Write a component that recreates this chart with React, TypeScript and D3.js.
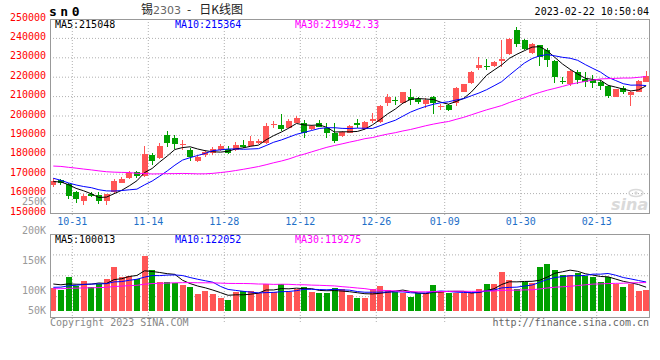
import React from "react";
import * as d3 from "d3";

// trading days shown (left edge of the first one is clipped by the frame)
const dates = [
  "10-26", "10-27", "10-28", "10-31", "11-01", "11-02", "11-03", "11-04", "11-07", "11-08",
  "11-09", "11-10", "11-11", "11-14", "11-15", "11-16", "11-17", "11-18", "11-21", "11-22",
  "11-23", "11-24", "11-25", "11-28", "11-29", "11-30", "12-01", "12-02", "12-05", "12-06",
  "12-07", "12-08", "12-09", "12-12", "12-13", "12-14", "12-15", "12-16", "12-19", "12-20",
  "12-21", "12-22", "12-23", "12-26", "12-27", "12-28", "12-29", "12-30", "01-03", "01-04",
  "01-05", "01-06", "01-09", "01-10", "01-11", "01-12", "01-13", "01-16", "01-17", "01-18",
  "01-19", "01-20", "01-30", "01-31", "02-01", "02-02", "02-03", "02-06", "02-07", "02-08",
  "02-09", "02-10", "02-13", "02-14", "02-15", "02-16", "02-17", "02-20", "02-21",
];

const opens = [
  164690, 167010, 164950, 160570, 156440, 160050, 159280, 155930, 160570, 165720,
  168040, 170880, 168820, 179900, 178350, 190210, 188660, 184800, 182480, 177060,
  179900, 180930, 182480, 182840, 182480, 185050, 184690, 185930, 185930, 195360,
  195360, 193970, 196550, 196240, 193150, 196550, 193670, 191090, 189850, 191390,
  196240, 193150, 197580, 197070, 206860, 208250, 206860, 209790, 208610, 205940,
  209950, 204490, 205680, 206550, 212530, 216860, 224590, 225780, 225780, 228510,
  231810, 244340, 239180, 232330, 236600, 234030, 228510, 218200, 216340, 222840,
  219080, 218560, 217690, 215470, 209950, 214280, 210830, 212530, 217690,
];
const highs = [
  168040, 167780, 165470, 161340, 159540, 161080, 160570, 160050, 167780, 168560,
  171650, 171650, 184540, 180930, 186090, 192270, 190210, 187630, 183510, 179900,
  182480, 184020, 185570, 184540, 186600, 187630, 189690, 188150, 196240, 197580,
  201030, 198460, 200000, 197940, 195360, 197940, 196550, 196550, 192270, 195360,
  198300, 197580, 201400, 205680, 211340, 209640, 212380, 213770, 209790, 209130,
  210310, 206190, 206190, 214950, 216500, 223200, 230570, 229230, 228350, 239180,
  240210, 245730, 239700, 237640, 236600, 235060, 228870, 220260, 223720, 223720,
  222840, 221140, 218560, 215980, 213920, 215470, 212890, 218560, 223350,
];
const lows = [
  163400, 164430, 157470, 155410, 154120, 157990, 154640, 154120, 160050, 165210,
  167530, 168040, 168560, 174740, 177840, 184020, 182990, 182480, 176810, 176290,
  178870, 179900, 181960, 180410, 181960, 183350, 184280, 185570, 185570, 193830,
  192430, 193820, 196400, 188510, 192790, 194330, 188510, 186240, 189180, 191090,
  193670, 192790, 196240, 196240, 205160, 205680, 206330, 205680, 206330, 203970,
  200880, 203100, 202580, 205160, 212380, 216500, 223720, 223720, 225270, 225420,
  231450, 235730, 234030, 231960, 225780, 225270, 216860, 216340, 215470, 216500,
  215110, 214280, 213410, 209130, 209790, 211340, 205160, 212380, 217530,
];
const closes = [
  166750, 165470, 158510, 157470, 159020, 159020, 155930, 159540, 166240, 167780,
  170620, 168820, 180670, 176810, 184540, 186090, 185570, 185570, 178870, 178870,
  181600, 182990, 184540, 181090, 185050, 184180, 187270, 187270, 194850, 195870,
  193300, 197580, 199130, 191090, 194850, 194490, 191090, 187270, 191600, 194850,
  195360, 197070, 198300, 205160, 209640, 207730, 212220, 208100, 207380, 208250,
  206550, 205160, 203100, 214280, 216340, 222840, 226290, 225110, 228000, 229390,
  239700, 236970, 234390, 237120, 230570, 228870, 219950, 217530, 223350, 218560,
  217690, 217170, 215470, 210310, 213770, 212530, 212530, 218200, 220620,
];
const volumes = [
  95500, 88300, 144200, 105100, 126200, 100900, 112300, 134600, 186300, 144200,
  148400, 133300, 232500, 172400, 123200, 123200, 119000, 109300, 102200, 71500,
  85400, 71500, 55900, 46300, 81200, 85400, 85400, 77000, 113500, 81200,
  113500, 81200, 91200, 102200, 81200, 77000, 74400, 95500, 91200, 67300,
  55900, 53400, 91200, 105100, 88300, 81200, 74400, 60100, 74400, 74400,
  109300, 81200, 74400, 74400, 74400, 74400, 92500, 113500, 113500, 164000,
  130400, 91200, 121900, 116500, 186300, 197600, 172400, 151400, 151400, 161100,
  147200, 144200, 121900, 144200, 113500, 99700, 113500, 85400, 88300,
];

// sessions before the visible window, estimated from where the MA lines start
const priorCloses = [
  171000, 172500, 170000, 173500, 172000, 171000, 173000, 172500, 171500, 173000,
  181000, 183000, 184500, 182000, 183500, 185000, 183000, 181500, 182500, 181000,
  176000, 172000, 168000, 167000, 165000, 166500, 165500, 167000, 165250,
];
const priorVolumes = [
  88000, 95000, 92000, 86000, 90000, 94000, 89000, 91000, 93000, 87000,
  92000, 90000, 96000, 88000, 91000, 89000, 93000, 90000, 92000, 91000,
  82000, 88000, 84000, 90000, 85500, 105000, 125000, 112000, 130000,
];

const priceTicks = [150000, 160000, 170000, 180000, 190000, 200000, 210000, 220000, 230000, 240000, 250000];
const dateTicks = ["10-31", "11-14", "11-28", "12-12", "12-26", "01-09", "01-30", "02-13"];
const volTickLabels = ["200K", "150K", "100K", "50K"];
const volTickValues = [200000, 150000, 100000, 50000];

const maPeriods = [5, 10, 30];
const maColors = ["#000000", "#0000ff", "#ff00ff"];
const priceLegend = ["MA5:215048", "MA10:215364", "MA30:219942.33"];
const volLegend = ["MA5:100013", "MA10:122052", "MA30:119275"];

const UP = "#ff5555";
const DOWN = "#00a000";
const MONO = "'DejaVu Sans Mono', monospace";

function movingAverage(values: number[], prior: number[], n: number) {
  const all = prior.concat(values);
  return values.map((_, i) => {
    const end = prior.length + i + 1;
    return d3.mean(all.slice(end - n, end)) as number;
  });
}

export default function App() {
  const left = 50;
  const right = 649;
  const mainTop = 19;
  const mainBottom = 213;
  const volTop = 234;
  const volBottom = 317.5;

  const x = d3.scaleBand<string>().domain(dates).range([49.5, 649.9]);
  const bw = x.bandwidth();
  const cx = (i: number) => (x(dates[i]) as number) + bw / 2;

  const y = d3.scaleLinear().domain([150000, 250000]).range([mainBottom, mainTop]);
  const yVol = d3.scaleLinear().domain([0, 323800]).range([311, volTop]);
  // the volume axis labels sit unevenly in the original
  const yVolLabel = d3.scaleLinear().domain([50000, 100000, 200000]).range([314.3, 294.3, 234.3]);

  const priceLine = d3.line<number>().x((_, i) => cx(i)).y((d) => y(d));
  const volLine = d3.line<number>().x((_, i) => cx(i)).y((d) => yVol(d));

  const volGrid = [1, 2, 3].map((k) => volTop + ((volBottom - volTop) * k) / 4);

  return (
    <svg width={660} height={360} style={{ display: "block", background: "#fff" }}>
      <style>{`body{margin:0}`}</style>
      <defs>
        <clipPath id="clipMain">
          <rect x={left} y={mainTop} width={right - left} height={mainBottom - mainTop} />
        </clipPath>
        <clipPath id="clipVol">
          <rect x={left} y={volTop} width={right - left} height={volBottom - volTop} />
        </clipPath>
      </defs>

      {/* header */}
      <text x={49} y={16} fontFamily={MONO} fontWeight="bold" fontSize={13} letterSpacing={3.5} fill="#000">
        sn0
      </text>
      <text x={141} y={14} fontSize={12} fill="#222" fontFamily="'Noto Sans CJK SC', sans-serif">
        锡<tspan fill="#666" fontFamily="'DejaVu Sans', sans-serif" fontSize={11}>2303</tspan>
        <tspan dx={6}>-</tspan>
        <tspan dx={8}>日K线图</tspan>
      </text>
      <text x={right} y={15} textAnchor="end" fontFamily={MONO} fontSize={10} fill="#000">
        2023-02-22 10:50:04
      </text>

      {/* main grid */}
      {priceTicks.slice(1, -1).map((t) => (
        <line key={"h" + t} x1={left} x2={right} y1={y(t)} y2={y(t)} stroke="#b0b0b0" strokeDasharray="1 2" />
      ))}
      {dateTicks.map((d) => (
        <g key={"v" + d}>
          <line x1={x(d)} x2={x(d)} y1={mainTop} y2={mainBottom + 4} stroke="#b0b0b0" strokeDasharray="1 2" />
          <line x1={x(d)} x2={x(d)} y1={volTop} y2={volBottom + 5} stroke="#b0b0b0" strokeDasharray="1 2" />
          <text x={x(d)} y={225} textAnchor="middle" fontFamily={MONO} fontSize={10} fill="#1e70c8">
            {d}
          </text>
        </g>
      ))}
      {volGrid.map((g) => (
        <line key={"vg" + g} x1={left} x2={right} y1={g} y2={g} stroke="#b0b0b0" strokeDasharray="1 2" />
      ))}

      {/* price axis labels */}
      {priceTicks.map((t) => (
        <text key={"p" + t} x={46} y={y(t) + 1.5} textAnchor="end" fontFamily={MONO} fontSize={10} fill="#f00">
          {t}
        </text>
      ))}
      <text x={46} y={204.5} textAnchor="end" fontFamily={MONO} fontSize={10} fill="#999">
        250K
      </text>
      {volTickValues.map((v, i) => (
        <text key={"vl" + v} x={46} y={yVolLabel(v)} textAnchor="end" fontFamily={MONO} fontSize={10} fill="#999">
          {volTickLabels[i]}
        </text>
      ))}

      {/* watermark */}
      <g opacity={0.9}>
        <ellipse cx={636} cy={193} rx={7} ry={3.5} fill="none" stroke="#d6d6d6" strokeWidth={1.5} />
        <circle cx={636} cy={193} r={1.7} fill="#d6d6d6" />
        <text x={611} y={210} fontFamily="'DejaVu Sans', sans-serif" fontStyle="italic" fontWeight="bold" fontSize={16} fill="#d6d6d6">
          sina
        </text>
      </g>

      {/* candles */}
      <g clipPath="url(#clipMain)" shapeRendering="crispEdges">
        {dates.map((d, i) => {
          const up = closes[i] >= opens[i];
          const c = up ? UP : DOWN;
          const top = y(Math.max(opens[i], closes[i]));
          const bot = y(Math.min(opens[i], closes[i]));
          return (
            <g key={d}>
              <line x1={cx(i)} x2={cx(i)} y1={y(highs[i])} y2={y(lows[i])} stroke={c} />
              <rect x={cx(i) - 3} y={top} width={6} height={Math.max(1, bot - top)} fill={c} />
            </g>
          );
        })}
      </g>
      <g clipPath="url(#clipMain)" fill="none">
        {maPeriods.map((n, k) => (
          <path key={"ma" + n} d={priceLine(movingAverage(closes, priorCloses, n)) as string} stroke={maColors[k]} strokeWidth={1} />
        ))}
      </g>

      {/* volume */}
      <g clipPath="url(#clipVol)" shapeRendering="crispEdges">
        {dates.map((d, i) => (
          <rect
            key={"vb" + d}
            x={cx(i) - 3}
            y={yVol(volumes[i])}
            width={6}
            height={yVol(0) - yVol(volumes[i])}
            fill={closes[i] >= opens[i] ? UP : DOWN}
          />
        ))}
      </g>
      <g clipPath="url(#clipVol)" fill="none">
        {maPeriods.map((n, k) => (
          <path key={"vma" + n} d={volLine(movingAverage(volumes, priorVolumes, n)) as string} stroke={maColors[k]} strokeWidth={1} />
        ))}
      </g>

      {/* frames */}
      <g fill="none" stroke="#999" shapeRendering="crispEdges">
        <rect x={left} y={mainTop} width={right - left} height={mainBottom - mainTop} />
        <rect x={left} y={volTop} width={right - left} height={volBottom - volTop} />
      </g>

      {/* legends */}
      {priceLegend.map((t, k) => (
        <text key={t} x={55 + 120 * k} y={27.5} fontFamily={MONO} fontSize={10} fill={maColors[k]}>
          {t}
        </text>
      ))}
      {volLegend.map((t, k) => (
        <text key={t} x={55 + 120 * k} y={242.5} fontFamily={MONO} fontSize={10} fill={maColors[k]}>
          {t}
        </text>
      ))}

      {/* footer */}
      <text x={left} y={326} fontFamily={MONO} fontSize={10} fill="#888">
        Copyright 2023 SINA.COM
      </text>
      <text x={right} y={326} textAnchor="end" fontFamily={MONO} fontSize={10} fill="#666">
        http://finance.sina.com.cn
      </text>
    </svg>
  );
}
